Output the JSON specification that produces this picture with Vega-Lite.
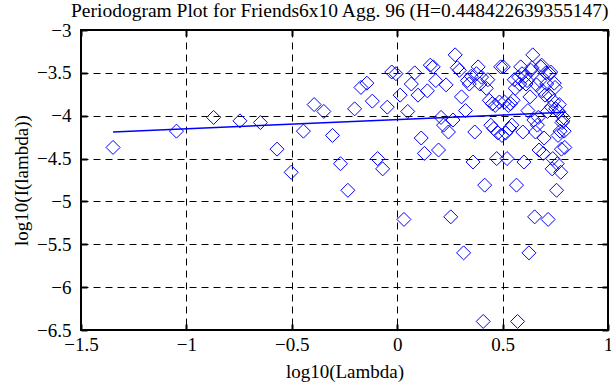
{
  "$schema": "https://vega.github.io/schema/vega-lite/v6.json",
  "width": 527,
  "height": 300,
  "autosize": {"type": "none"},
  "padding": {"left": 81, "top": 30, "right": 3, "bottom": 55},
  "background": "white",
  "title": {"text": "Periodogram Plot for Friends6x10 Agg. 96 (H=0.448422639355147)", "font": "Liberation Serif", "fontSize": 19.5, "fontWeight": "normal", "color": "#000000", "anchor": "start", "frame": "group", "dx": -10, "offset": 0},
  "config": {
    "view": {"stroke": "#000000", "strokeWidth": 2},
    "axis": {"labelFont": "Liberation Serif", "labelFontSize": 19, "labelColor": "#000000", "titleFont": "Liberation Serif", "titleFontSize": 19, "titleFontWeight": "normal", "titleColor": "#000000", "domain": false, "tickColor": "#000000", "tickWidth": 2}
  },
  "datasets": {
    "pts": [
      {"x": -1.348, "y": -4.37}, {"x": -1.047, "y": -4.18}, {"x": -0.871, "y": -4.02}, {"x": -0.746, "y": -4.06}, {"x": -0.649, "y": -4.08},
      {"x": -0.570, "y": -4.39}, {"x": -0.503, "y": -4.66}, {"x": -0.445, "y": -4.18}, {"x": -0.394, "y": -3.87}, {"x": -0.348, "y": -3.95},
      {"x": -0.307, "y": -4.23}, {"x": -0.269, "y": -4.56}, {"x": -0.234, "y": -4.87}, {"x": -0.202, "y": -3.92}, {"x": -0.172, "y": -3.67},
      {"x": -0.144, "y": -3.62}, {"x": -0.118, "y": -3.83}, {"x": -0.093, "y": -4.50}, {"x": -0.069, "y": -4.62}, {"x": -0.047, "y": -3.90},
      {"x": -0.026, "y": -3.49}, {"x": -0.006, "y": -3.51}, {"x": 0.014, "y": -3.76}, {"x": 0.032, "y": -5.21}, {"x": 0.050, "y": -3.95},
      {"x": 0.067, "y": -3.63}, {"x": 0.083, "y": -3.50}, {"x": 0.099, "y": -3.76}, {"x": 0.114, "y": -4.26}, {"x": 0.129, "y": -4.44},
      {"x": 0.143, "y": -3.71}, {"x": 0.157, "y": -3.41}, {"x": 0.171, "y": -3.43}, {"x": 0.183, "y": -3.59}, {"x": 0.196, "y": -4.40},
      {"x": 0.208, "y": -4.02}, {"x": 0.220, "y": -4.11}, {"x": 0.232, "y": -3.64}, {"x": 0.243, "y": -4.19}, {"x": 0.254, "y": -5.18},
      {"x": 0.265, "y": -4.05}, {"x": 0.275, "y": -3.29}, {"x": 0.285, "y": -3.44}, {"x": 0.295, "y": -3.47}, {"x": 0.305, "y": -3.78},
      {"x": 0.315, "y": -5.60}, {"x": 0.324, "y": -3.94}, {"x": 0.333, "y": -3.59}, {"x": 0.342, "y": -3.63}, {"x": 0.351, "y": -3.54},
      {"x": 0.360, "y": -4.54}, {"x": 0.368, "y": -4.19}, {"x": 0.376, "y": -3.51}, {"x": 0.384, "y": -3.43}, {"x": 0.392, "y": -3.63},
      {"x": 0.400, "y": -3.55}, {"x": 0.408, "y": -6.40}, {"x": 0.415, "y": -4.81}, {"x": 0.423, "y": -3.68}, {"x": 0.430, "y": -3.58},
      {"x": 0.437, "y": -3.82}, {"x": 0.444, "y": -4.11}, {"x": 0.451, "y": -3.86}, {"x": 0.458, "y": -4.15}, {"x": 0.465, "y": -3.88},
      {"x": 0.472, "y": -4.50}, {"x": 0.478, "y": -4.20}, {"x": 0.485, "y": -3.84}, {"x": 0.491, "y": -3.43}, {"x": 0.497, "y": -4.23},
      {"x": 0.503, "y": -3.43}, {"x": 0.509, "y": -3.84}, {"x": 0.515, "y": -4.20}, {"x": 0.521, "y": -4.50}, {"x": 0.527, "y": -3.88},
      {"x": 0.533, "y": -4.15}, {"x": 0.538, "y": -3.86}, {"x": 0.544, "y": -4.11}, {"x": 0.550, "y": -3.82}, {"x": 0.555, "y": -3.58},
      {"x": 0.560, "y": -3.68}, {"x": 0.566, "y": -4.81}, {"x": 0.571, "y": -6.40}, {"x": 0.576, "y": -3.55}, {"x": 0.581, "y": -3.63},
      {"x": 0.586, "y": -3.43}, {"x": 0.592, "y": -3.51}, {"x": 0.596, "y": -4.19}, {"x": 0.601, "y": -4.54}, {"x": 0.606, "y": -3.54},
      {"x": 0.611, "y": -3.63}, {"x": 0.616, "y": -3.59}, {"x": 0.620, "y": -3.94}, {"x": 0.625, "y": -5.60}, {"x": 0.630, "y": -3.78},
      {"x": 0.634, "y": -3.47}, {"x": 0.639, "y": -3.44}, {"x": 0.643, "y": -3.29}, {"x": 0.648, "y": -4.05}, {"x": 0.652, "y": -5.18},
      {"x": 0.656, "y": -4.19}, {"x": 0.661, "y": -3.64}, {"x": 0.665, "y": -4.11}, {"x": 0.669, "y": -4.02}, {"x": 0.673, "y": -4.40},
      {"x": 0.677, "y": -3.59}, {"x": 0.681, "y": -3.43}, {"x": 0.685, "y": -3.41}, {"x": 0.689, "y": -3.71}, {"x": 0.693, "y": -4.44},
      {"x": 0.697, "y": -4.26}, {"x": 0.701, "y": -3.76}, {"x": 0.705, "y": -3.50}, {"x": 0.709, "y": -3.63}, {"x": 0.713, "y": -3.95},
      {"x": 0.716, "y": -5.21}, {"x": 0.720, "y": -3.76}, {"x": 0.724, "y": -3.51}, {"x": 0.728, "y": -3.49}, {"x": 0.731, "y": -3.90},
      {"x": 0.735, "y": -4.62}, {"x": 0.738, "y": -4.50}, {"x": 0.742, "y": -3.83}, {"x": 0.745, "y": -3.62}, {"x": 0.749, "y": -3.67},
      {"x": 0.752, "y": -3.92}, {"x": 0.756, "y": -4.87}, {"x": 0.759, "y": -4.56}, {"x": 0.763, "y": -4.23}, {"x": 0.766, "y": -3.95},
      {"x": 0.769, "y": -3.87}, {"x": 0.773, "y": -4.18}, {"x": 0.776, "y": -4.66}, {"x": 0.779, "y": -4.39}, {"x": 0.782, "y": -4.08},
      {"x": 0.786, "y": -4.06}, {"x": 0.789, "y": -4.02}, {"x": 0.792, "y": -4.18}, {"x": 0.795, "y": -4.37}
    ],
    "fit": [
      {"x": -1.348, "y": -4.19},
      {"x": 0.795, "y": -3.96}
    ]
  },
  "layer": [
    {
      "data": {"name": "pts"},
      "mark": {"type": "point", "shape": "diamond", "size": 196, "filled": false, "stroke": "#0000ff", "strokeWidth": 1, "opacity": 1},
      "encoding": {
        "x": {"field": "x", "type": "quantitative", "scale": {"domain": [-1.5, 1], "nice": false, "zero": false},
              "axis": {"orient": "bottom", "title": "log10(Lambda)", "values": [-1.5, -1, -0.5, 0, 0.5, 1], "format": "~g", "grid": true, "gridColor": "#000000", "gridDash": [7, 5], "gridWidth": 1, "gridOpacity": 1, "tickSize": -6, "labelPadding": 11, "titlePadding": 8, "labelFlush": false}},
        "y": {"field": "y", "type": "quantitative", "scale": {"domain": [-6.5, -3], "nice": false, "zero": false},
              "axis": {"orient": "left", "title": "log10(I(lambda))", "values": [-6.5, -6, -5.5, -5, -4.5, -4, -3.5, -3], "format": "~g", "grid": true, "gridColor": "#000000", "gridDash": [7, 5], "gridWidth": 1, "gridOpacity": 1, "tickSize": -6, "labelPadding": 16, "titlePadding": 5, "labelFlush": false}}
      }
    },
    {
      "data": {"name": "fit"},
      "mark": {"type": "line", "color": "#0000ff", "strokeWidth": 1.5},
      "encoding": {
        "x": {"field": "x", "type": "quantitative", "axis": {"orient": "top", "labels": false, "title": null, "grid": false, "values": [-1.5, -1, -0.5, 0, 0.5, 1], "tickSize": -6}},
        "y": {"field": "y", "type": "quantitative", "axis": {"orient": "right", "labels": false, "title": null, "grid": false, "values": [-6.5, -6, -5.5, -5, -4.5, -4, -3.5, -3], "tickSize": -6}}
      }
    }
  ],
  "resolve": {"axis": {"x": "independent", "y": "independent"}}
}
